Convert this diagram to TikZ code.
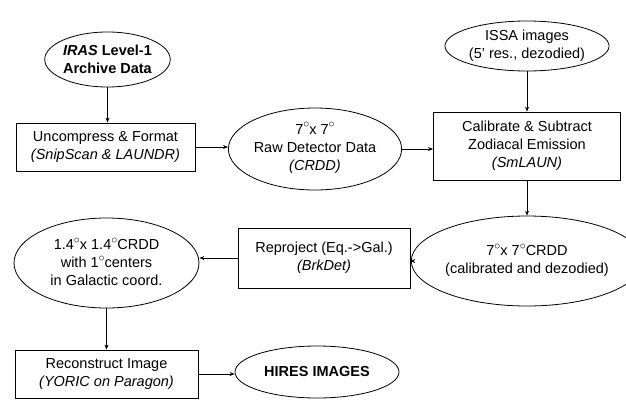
\documentclass[tikz,border=0pt]{standalone}
\usepackage{fontspec}
\setmainfont{Liberation Sans}
\usetikzlibrary{shapes.geometric,arrows.meta}
\newcommand{\dg}{\smash{\raisebox{6.5pt}{\fontsize{11.5}{11.5}\selectfont$\circ$}}}
\begin{document}
\begin{tikzpicture}[x=1pt,y=-1pt,
  every node/.style={font=\fontsize{14.5}{18}\selectfont, align=center, inner sep=0pt},
  ell/.style={draw, ellipse, line width=0.8pt},
  box/.style={draw, rectangle, line width=0.8pt},
  arr/.style={-{Stealth[length=5pt,width=4pt]}, line width=0.7pt}]
\useasboundingbox (0,0) rectangle (626,399);

\node[ell, minimum width=125pt, minimum height=55pt] (iras) at (107.5,59.5)
  {\textbf{\textit{IRAS} Level-1}\\\textbf{Archive Data}};
\node[box, minimum width=179pt, minimum height=48pt] (uncomp) at (105.5,147)
  {Uncompress \& Format\\\textit{(SnipScan \& LAUNDR)}};
\node[ell, minimum width=164pt, minimum height=82pt] (raw) at (315,149)
  {7\dg x 7\dg\\Raw Detector Data\\\textit{(CRDD)}};
\node[ell, minimum width=160pt, minimum height=50pt] (issa) at (527,46)
  {ISSA images\\(5'\ res., dezodied)};
\node[box, minimum width=187pt, minimum height=68pt] (calib) at (527,146)
  {Calibrate \& Subtract\\Zodiacal Emission\\\textit{(SmLAUN)}};
\node[ell, minimum width=192pt, minimum height=90pt] (crdd) at (527,261)
  {7\dg x 7\dg CRDD\\(calibrated and dezodied)};
\node[box, minimum width=172pt, minimum height=60pt] (reproj) at (324,258)
  {Reproject (Eq.->Gal.)\\\textit{(BrkDet)}};
\node[ell, minimum width=185pt, minimum height=90pt] (deg14) at (106.5,263)
  {1.4\dg x 1.4\dg CRDD\\with 1\dg centers\\in Galactic coord.};
\node[box, minimum width=183pt, minimum height=48pt] (recon) at (106.5,374)
  {Reconstruct Image\\\textit{(YORIC on Paragon)}};
\node[ell, minimum width=164pt, minimum height=52pt] (hires) at (317,372)
  {\textbf{HIRES IMAGES}};

\draw[arr] (iras.south) -- (iras.south |- uncomp.north);
\draw[arr] (uncomp.east) -- (uncomp.east -| raw.west);
\draw[arr] (raw.east) -- (raw.east -| calib.west);
\draw[arr] (issa.south) -- (calib.north);
\draw[arr] (calib.south) -- (crdd.north);
\draw[arr] (crdd.west) -- (crdd.west -| reproj.east);
\draw[arr] (reproj.west) -- (reproj.west -| deg14.east);
\draw[arr] (deg14.south) -- (recon.north);
\draw[arr] (recon.east) -- (recon.east -| hires.west);
\end{tikzpicture}
\end{document}
